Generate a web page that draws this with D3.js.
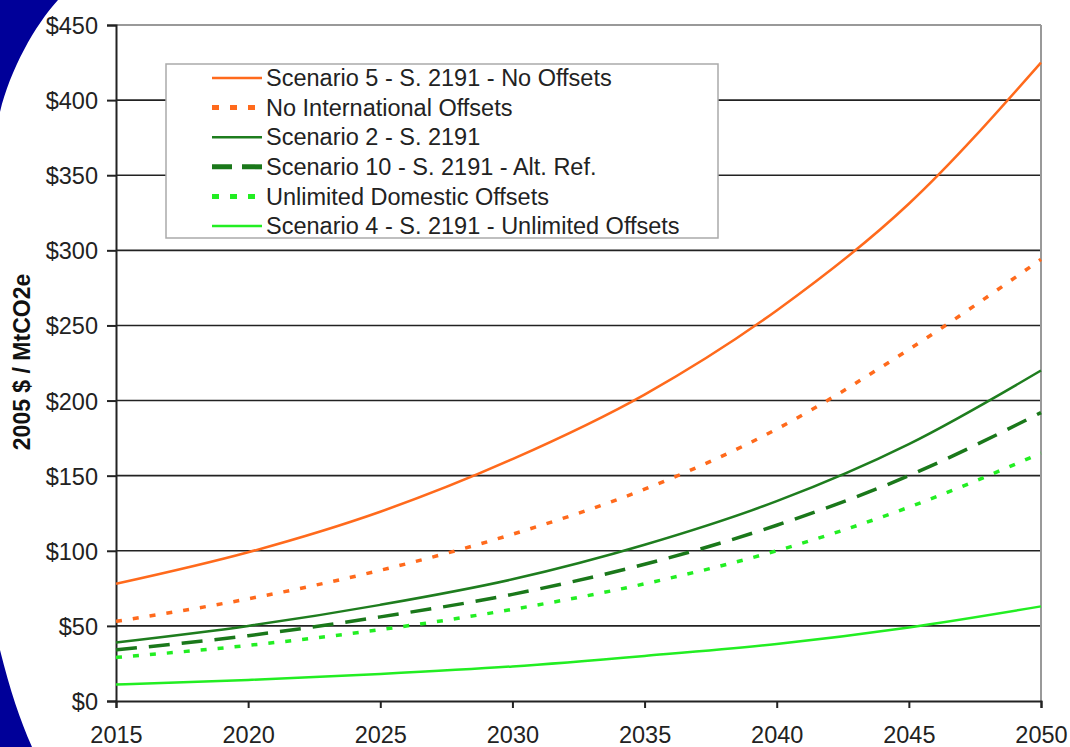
<!DOCTYPE html>
<html>
<head>
<meta charset="utf-8">
<script src="https://cdn.jsdelivr.net/npm/d3@7"></script>
<style>
  body { margin: 0; background: #fff; }
  svg { display: block; font-family: "Liberation Sans", Arial, sans-serif; }
</style>
</head>
<body>
<div id="chart"></div>
<script>
// chart size
var svgWidth = 1070;
var svgHeight = 747;

var margin = { top: 25, right: 29, bottom: 46, left: 116 };
var chartWidth = svgWidth - margin.left - margin.right;
var chartHeight = svgHeight - margin.top - margin.bottom;

// data
var years = [2015, 2020, 2025, 2030, 2035, 2040, 2045, 2050];
var scen5NoOffsets = [78, 99, 126, 161, 204, 260, 331, 425];
var noIntlOffsets = [53, 68, 87, 111, 141, 181, 234, 294];
var scen2 = [39, 50, 64, 81, 104, 133, 171, 220];
var scen10AltRef = [34, 43.5, 56, 71, 91, 117, 150, 192];
var unlimitedDomestic = [29, 37, 47.5, 61, 78, 100, 129, 165];
var scen4Unlimited = [11, 14, 18, 23, 30, 38, 49, 63];

var yTicks = [0, 50, 100, 150, 200, 250, 300, 350, 400, 450];

var series = [
  { name: "Scenario 5 - S. 2191 - No Offsets", values: scen5NoOffsets, color: "#ff6a1c", width: 2.5, dash: null },
  { name: "No International Offsets", values: noIntlOffsets, color: "#ff6a1c", width: 3.5, dash: "6,11" },
  { name: "Scenario 2 - S. 2191", values: scen2, color: "#1e7d1e", width: 2.5, dash: null },
  { name: "Scenario 10 - S. 2191 - Alt. Ref.", values: scen10AltRef, color: "#1a781a", width: 3.5, dash: "21,12" },
  { name: "Unlimited Domestic Offsets", values: unlimitedDomestic, color: "#22ee22", width: 3.5, dash: "6,11" },
  { name: "Scenario 4 - S. 2191 - Unlimited Offsets", values: scen4Unlimited, color: "#22ee22", width: 2.5, dash: null }
];

var svg = d3.select("#chart")
  .append("svg")
  .attr("width", svgWidth)
  .attr("height", svgHeight);

// blue slide frame in the left corners
svg.append("path")
  .attr("d", "M0,0 L58,0 C35,25 10,70 0,112 Z")
  .attr("fill", "#000099");
svg.append("path")
  .attr("d", "M0,650 C10,690 20,720 32,747 L0,747 Z")
  .attr("fill", "#000099");

var chartGroup = svg.append("g")
  .attr("transform", `translate(${margin.left}, ${margin.top})`);

var xScale = d3.scaleLinear()
  .domain([2015, 2050])
  .range([0, chartWidth]);

var yScale = d3.scaleLinear()
  .domain([0, 450])
  .range([chartHeight, 0]);

// gridlines
chartGroup.selectAll(".grid")
  .data(yTicks.filter(d => d > 0 && d < 450))
  .enter()
  .append("line")
  .attr("x1", 0)
  .attr("x2", chartWidth)
  .attr("y1", d => yScale(d))
  .attr("y2", d => yScale(d))
  .attr("stroke", "#222")
  .attr("stroke-width", 1.6);

// top and right border
chartGroup.append("line")
  .attr("x1", 0).attr("x2", chartWidth)
  .attr("y1", 0).attr("y2", 0)
  .attr("stroke", "#999").attr("stroke-width", 2);
chartGroup.append("line")
  .attr("x1", chartWidth).attr("x2", chartWidth)
  .attr("y1", 0).attr("y2", chartHeight)
  .attr("stroke", "#999").attr("stroke-width", 2);

// axes
var leftAxis = d3.axisLeft(yScale)
  .tickValues(yTicks)
  .tickSize(9)
  .tickPadding(9)
  .tickFormat(d => "$" + d);

var bottomAxis = d3.axisBottom(xScale)
  .tickValues(years)
  .tickSize(7)
  .tickPadding(8)
  .tickFormat(d3.format("d"));

var yAxisG = chartGroup.append("g").call(leftAxis);
var xAxisG = chartGroup.append("g")
  .attr("transform", `translate(0, ${chartHeight})`)
  .call(bottomAxis);

[yAxisG, xAxisG].forEach(function(g) {
  g.select(".domain").attr("stroke", "#222").attr("stroke-width", 2);
  g.selectAll(".tick line").attr("stroke", "#222").attr("stroke-width", 2);
  g.selectAll(".tick text")
    .attr("fill", "#222")
    .style("font-size", "23.5px")
    .style("font-family", "'Liberation Sans', Arial, sans-serif");
});
yAxisG.selectAll(".tick text").attr("dy", "0.36em");
xAxisG.selectAll(".tick text").attr("y", 42).attr("dy", 0);

// y axis title
chartGroup.append("text")
  .attr("transform", "rotate(-90)")
  .attr("x", -(362 - margin.top))
  .attr("y", -margin.left + 30)
  .attr("text-anchor", "middle")
  .attr("fill", "#111")
  .style("font-size", "23px")
  .style("font-weight", "bold")
  .text("2005 $ / MtCO2e");

// lines
var line = d3.line()
  .x((d, i) => xScale(years[i]))
  .y(d => yScale(d))
  .curve(d3.curveMonotoneX);

series.forEach(function(s) {
  chartGroup.append("path")
    .datum(s.values)
    .attr("d", line)
    .attr("fill", "none")
    .attr("stroke", s.color)
    .attr("stroke-width", s.width)
    .attr("stroke-dasharray", s.dash);
});

// legend
var legend = svg.append("g")
  .attr("transform", "translate(166, 64)");

legend.append("rect")
  .attr("width", 552)
  .attr("height", 174)
  .attr("fill", "#fff")
  .attr("stroke", "#aaa")
  .attr("stroke-width", 1.5);

series.forEach(function(s, i) {
  var y = 14 + i * 29.6;
  legend.append("line")
    .attr("x1", 46).attr("x2", 96)
    .attr("y1", y).attr("y2", y)
    .attr("stroke", s.color)
    .attr("stroke-width", s.dash ? 5 : 2.5)
    .attr("stroke-dasharray", s.dash ? (s.dash === "6,11" ? "7,11" : "20,10") : null);
  legend.append("text")
    .attr("x", 100)
    .attr("y", y)
    .attr("dy", "0.35em")
    .attr("fill", "#222")
    .style("font-size", "23.5px")
    .text(s.name);
});
</script>
</body>
</html>
